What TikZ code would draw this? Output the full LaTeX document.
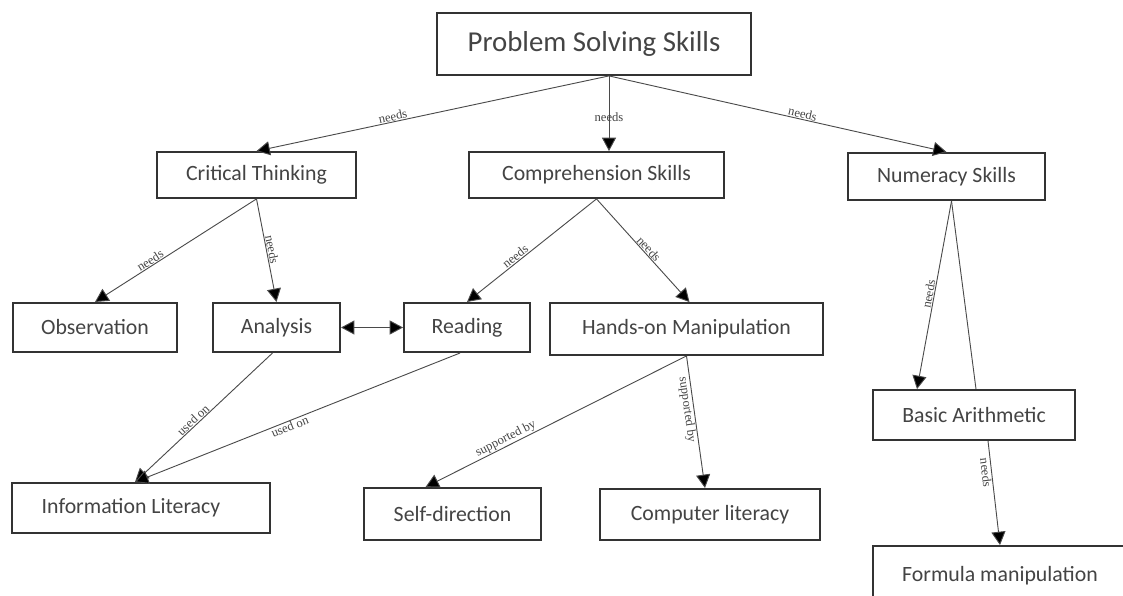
\documentclass[tikz,border=0pt]{standalone}
\usepackage{fontspec}
\setmainfont{Carlito}
\newfontfamily\rotulofont{Liberation Serif}
\definecolor{mapaBorde}{HTML}{333333}
\definecolor{mapaTexto}{HTML}{444444}
\definecolor{mapaLinea}{HTML}{4A4A4A}
\usetikzlibrary{
	arrows.meta,
	calc
}
\tikzset{
	concepto/.style={
		draw=mapaBorde,
		line width=1.3pt,
		fill=white,
		align=center,
		inner sep=0pt,
		text=mapaTexto,
		font=\fontsize{15.5}{18}\selectfont
	},
	raiz/.style={
		concepto,
		font=\fontsize{20.5}{24}\selectfont
	},
	flecha/.style={
		-{Triangle[length=9.5pt,width=10pt,fill=black]},
		line width=0.65pt,
		mapaLinea
	},
	flechaDoble/.style={
		{Triangle[length=9.5pt,width=10pt,fill=black]}-{Triangle[length=9.5pt,width=10pt,fill=black]},
		line width=0.65pt,
		mapaLinea
	},
	enlace/.style={
		line width=0.65pt,
		mapaLinea
	},
	rotulo/.style={
		sloped,
		inner sep=0.5pt,
		text=mapaTexto,
		font=\rotulofont\fontsize{9}{10}\selectfont
	}
}

\begin{document}
\begin{tikzpicture}[x=0.025cm, y=-0.025cm]
		\useasboundingbox (0,0) rectangle (1123,596);
		\node[raiz, minimum width=7.85cm, minimum height=1.55cm] (pss) at (594,44) {Problem Solving Skills};
		\node[concepto, minimum width=4.98cm, minimum height=1.15cm] (ct) at (256.5,175) {Critical Thinking};
		\node[concepto, minimum width=6.38cm, minimum height=1.15cm] (cs) at (596.5,175) {Comprehension Skills};
		\node[concepto, minimum width=4.93cm, minimum height=1.18cm] (ns) at (946.5,176.5) {Numeracy Skills};
		\node[concepto, minimum width=4.1cm, minimum height=1.23cm] (obs) at (95,327.5) {Observation};
		\node[concepto, minimum width=3.18cm, minimum height=1.23cm] (ana) at (276.5,327.5) {Analysis};
		\node[concepto, minimum width=3.15cm, minimum height=1.23cm] (rea) at (467,327.5) {Reading};
		\node[concepto, minimum width=6.83cm, minimum height=1.3cm] (hom) at (686.5,329) {Hands-on Manipulation};
		\node[concepto, minimum width=6.45cm, minimum height=1.25cm] (il) at (141,508) {\hspace*{-0.5cm}Information Literacy};
		\node[concepto, minimum width=4.43cm, minimum height=1.3cm] (sd) at (452.5,514) {Self-direction};
		\node[concepto, minimum width=5.5cm, minimum height=1.28cm] (cl) at (710,514.5) {Computer literacy};
		\node[concepto, minimum width=5.05cm, minimum height=1.25cm] (ba) at (974,415) {Basic Arithmetic};
		\node[concepto, minimum width=6.35cm, minimum height=1.5cm] (fm) at (1000,576) {Formula manipulation};
		\coordinate (pssP) at ($(pss.south)+(15,0)$);
		\coordinate (nsP) at ($(ns.south)+(5,0)$);
		\coordinate (ilP) at ($(il.north)+(-6,0)$);
		\draw[flecha] (pssP) -- node[rotulo, above, pos=0.61] {needs} (ct.north);
		\draw[flecha] (pssP) -- node[rotulo, pos=0.55, sloped=false] {needs} (pssP |- cs.north);
		\draw[flecha] (pssP) -- node[rotulo, above, pos=0.57] {needs} (ns.north);
		\draw[flecha] (ct.south) -- node[rotulo, above, pos=0.64] {needs} (obs.north);
		\draw[flecha] (ct.south) -- node[rotulo, above, pos=0.5] {needs} (ana.north);
		\draw[flecha] (cs.south) -- node[rotulo, above, pos=0.6] {needs} (rea.north);
		\draw[flecha] (cs.south) -- node[rotulo, above, pos=0.52] {needs} ($(hom.north)+(3,0)$);
		\draw[flechaDoble] (ana.east) -- (rea.west);
		\draw[flecha] (nsP) -- node[rotulo, above, pos=0.5] {needs} ($(ba.north)+(-57,0)$);
		\draw[enlace] (nsP) -- ($(ba.north)+(2,0)$);
		\draw[flecha] ($(ba.south)+(14,0)$) -- node[rotulo, below, pos=0.3] {needs} (fm.north);
		\draw[flecha] ($(ana.south)+(-4,0)$) -- node[rotulo, above, pos=0.55] {used on} (ilP);
		\draw[flecha] ($(rea.south)+(-7,0)$) -- node[rotulo, below, pos=0.53] {used on} (ilP);
		\draw[flecha] (hom.south) -- node[rotulo, above, pos=0.68] {supported by} ($(sd.north)+(-27,0)$);
		\draw[flecha] (hom.south) -- node[rotulo, below, pos=0.4] {supported by} ($(cl.north)+(-5,0)$);
	\end{tikzpicture}
\end{document}
